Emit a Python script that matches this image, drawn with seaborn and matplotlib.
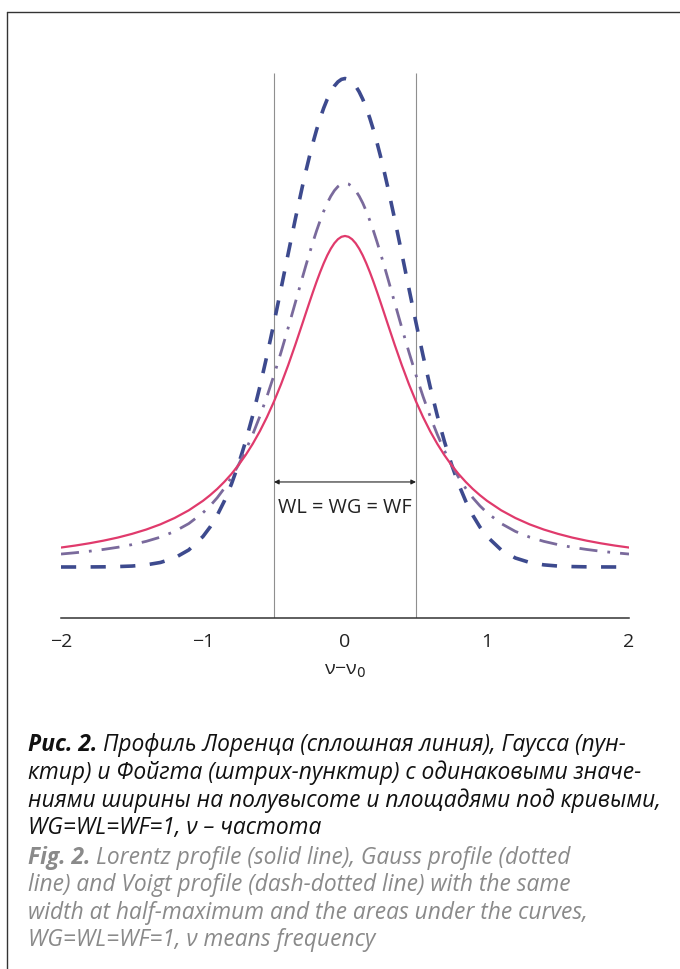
import matplotlib
matplotlib.use("Agg")
import matplotlib.pyplot as plt
from matplotlib.lines import Line2D
import seaborn as sns
import pandas as pd

# ---------------- data ----------------
x_vals = [-2.0, -1.9, -1.8, -1.7, -1.6, -1.5, -1.4, -1.3, -1.2, -1.1,
          -1.0, -0.95, -0.9, -0.85, -0.8, -0.75, -0.7, -0.65, -0.6, -0.55,
          -0.5, -0.45, -0.4, -0.35, -0.3, -0.275, -0.25, -0.225, -0.2, -0.175,
          -0.15, -0.125, -0.1, -0.075, -0.05, -0.025,
          0.0,
          0.025, 0.05, 0.075, 0.1, 0.125, 0.15, 0.175, 0.2, 0.225, 0.25, 0.275,
          0.3, 0.35, 0.4, 0.45, 0.5,
          0.55, 0.6, 0.65, 0.7, 0.75, 0.8, 0.85, 0.9, 0.95, 1.0,
          1.1, 1.2, 1.3, 1.4, 1.5, 1.6, 1.7, 1.8, 1.9, 2.0]

lorentz = [0.0374, 0.0412, 0.0456, 0.0507, 0.0566, 0.0637, 0.0720, 0.0820, 0.0942, 0.1090,
           0.1273, 0.1381, 0.1501, 0.1637, 0.1788, 0.1959, 0.2151, 0.2367, 0.2609, 0.2881,
           0.3183, 0.3517, 0.3882, 0.4273, 0.4681, 0.4888, 0.5093, 0.5294, 0.5488, 0.5671,
           0.5840, 0.5992, 0.6121, 0.6226, 0.6303, 0.6350,
           0.6366,
           0.6350, 0.6303, 0.6226, 0.6121, 0.5992, 0.5840, 0.5671, 0.5488, 0.5294, 0.5093, 0.4888,
           0.4681, 0.4273, 0.3882, 0.3517, 0.3183,
           0.2881, 0.2609, 0.2367, 0.2151, 0.1959, 0.1788, 0.1637, 0.1501, 0.1381, 0.1273,
           0.1090, 0.0942, 0.0820, 0.0720, 0.0637, 0.0566, 0.0507, 0.0456, 0.0412, 0.0374]

gauss = [0.0000, 0.0000, 0.0001, 0.0003, 0.0008, 0.0018, 0.0041, 0.0087, 0.0173, 0.0328,
         0.0587, 0.0769, 0.0994, 0.1267, 0.1593, 0.1975, 0.2414, 0.2911, 0.3462, 0.4061,
         0.4697, 0.5358, 0.6028, 0.6689, 0.7319, 0.7617, 0.7899, 0.8164, 0.8408, 0.8629,
         0.8826, 0.8996, 0.9137, 0.9249, 0.9329, 0.9378,
         0.9394,
         0.9378, 0.9329, 0.9249, 0.9137, 0.8996, 0.8826, 0.8629, 0.8408, 0.8164, 0.7899, 0.7617,
         0.7319, 0.6689, 0.6028, 0.5358, 0.4697,
         0.4061, 0.3462, 0.2911, 0.2414, 0.1975, 0.1593, 0.1267, 0.0994, 0.0769, 0.0587,
         0.0328, 0.0173, 0.0087, 0.0041, 0.0018, 0.0008, 0.0003, 0.0001, 0.0000, 0.0000]

voigt = [0.0249, 0.0274, 0.0303, 0.0338, 0.0379, 0.0430, 0.0493, 0.0574, 0.0684, 0.0835,
         0.1044, 0.1176, 0.1331, 0.1513, 0.1723, 0.1965, 0.2239, 0.2549, 0.2895, 0.3276,
         0.3690, 0.4134, 0.4601, 0.5083, 0.5565, 0.5803, 0.6033, 0.6256, 0.6467, 0.6662,
         0.6841, 0.6999, 0.7131, 0.7238, 0.7316, 0.7365,
         0.7380,
         0.7365, 0.7316, 0.7238, 0.7131, 0.6999, 0.6841, 0.6662, 0.6467, 0.6256, 0.6033, 0.5803,
         0.5565, 0.5083, 0.4601, 0.4134, 0.3690,
         0.3276, 0.2895, 0.2549, 0.2239, 0.1965, 0.1723, 0.1513, 0.1331, 0.1176, 0.1044,
         0.0835, 0.0684, 0.0574, 0.0493, 0.0430, 0.0379, 0.0338, 0.0303, 0.0274, 0.0249]

half_width_edges = [-0.5, 0.5]
arrow_level = 0.1635
width_label = "WL = WG = WF"
major_ticks = [-2, -1, 0, 1, 2]
major_labels = ["\u22122", "\u22121", "0", "1", "2"]
minor_ticks = [-1.5, -0.5, 0.5, 1.5]

caption_ru = [
    ("Рис. 2. ", "Профиль Лоренца (сплошная линия), Гаусса (пун-"),
    ("", "ктир) и Фойгта (штрих-пунктир) с одинаковыми значе-"),
    ("", "ниями ширины на полувысоте и площадями под кривыми,"),
    ("", "WG=WL=WF=1, ν – частота"),
]
caption_en = [
    ("Fig. 2. ", "Lorentz profile (solid line), Gauss profile (dotted"),
    ("", "line) and Voigt profile (dash-dotted line) with the same"),
    ("", "width at half-maximum and the areas under the curves,"),
    ("", "WG=WL=WF=1, ν means frequency"),
]

df = pd.DataFrame({"x": x_vals, "Lorentz": lorentz, "Gauss": gauss, "Voigt": voigt})

# ---------------- style ----------------
sns.set_style("white")
plt.rcParams["font.family"] = ["Open Sans", "DejaVu Sans"]
plt.rcParams["mathtext.fontset"] = "dejavusans"

W, H = 680, 969
fig = plt.figure(figsize=(W / 100, H / 100), dpi=100)
fig.patch.set_facecolor("white")

ax_left, ax_right, ax_top, ax_bot = 61, 629, 73, 618
ax = fig.add_axes([ax_left / W, (H - ax_bot) / H, (ax_right - ax_left) / W, (ax_bot - ax_top) / H])
ax.set_facecolor("white")
ymin, ymax = -0.0981, 0.950

sns.lineplot(data=df, x="x", y="Gauss", ax=ax, color="#3d4a8e", lw=2.6,
             linestyle=(0, (4.2, 4.0)), sort=False, errorbar=None)
sns.lineplot(data=df, x="x", y="Voigt", ax=ax, color="#7a6a9c", lw=2.0,
             linestyle=(0, (6.5, 3.6, 1.0, 3.6)), sort=False, errorbar=None)
sns.lineplot(data=df, x="x", y="Lorentz", ax=ax, color="#e03a6c", lw=1.6,
             sort=False, errorbar=None)

ax.vlines(half_width_edges, ymin, ymax, color="#8f8f8f", lw=0.8, zorder=1)

ax.annotate("", xy=(half_width_edges[1], arrow_level), xytext=(half_width_edges[0], arrow_level),
            arrowprops=dict(arrowstyle="<|-|>", lw=0.8, color="#222222",
                            mutation_scale=7, shrinkA=0, shrinkB=0))
ax.text(0, 0.114, width_label, ha="center", va="center", fontsize=14.3, color="#222222")

ax.set_xlim(-2, 2)
ax.set_ylim(ymin, ymax)
ax.set_yticks([])
ax.set_ylabel("")
ax.set_xticks(major_ticks)
ax.set_xticklabels(major_labels)
ax.set_xticks(minor_ticks, minor=True)
ax.tick_params(axis="x", which="both", direction="in", length=4.8, width=0.9,
               color="#333333", labelsize=14, pad=10.5, labelcolor="#222222")
for s in ["left", "right", "top"]:
    ax.spines[s].set_visible(False)
ax.spines["bottom"].set_color("#333333")
ax.spines["bottom"].set_linewidth(1.1)
ax.set_xlabel("ν−ν$_0$", fontsize=14, color="#222222", labelpad=8)

# frame lines (left and top)
fig.add_artist(Line2D([7 / W, 7 / W], [0, 1 - 12 / H], transform=fig.transFigure,
                      color="#333333", lw=1.0))
fig.add_artist(Line2D([7 / W, 1], [1 - 12 / H, 1 - 12 / H], transform=fig.transFigure,
                      color="#333333", lw=1.0))

# caption
renderer = fig.canvas.get_renderer()
cap_fs = 16.4
cap_x = 28
def put_line(bold, rest, ybase, color):
    x = cap_x / W
    y = 1 - ybase / H
    if bold:
        t = fig.text(x, y, bold, fontsize=cap_fs, style="italic", weight="bold",
                     color=color, va="baseline", ha="left")
        bb = t.get_window_extent(renderer=renderer)
        x = bb.x1 / fig.bbox.width
    fig.text(x, y, rest, fontsize=cap_fs, style="italic", color=color,
             va="baseline", ha="left")

ru_base = [751, 779, 807, 834]
en_base = [864, 891, 919, 946]
for (b, r), yb in zip(caption_ru, ru_base):
    put_line(b, r, yb, "#111111")
for (b, r), yb in zip(caption_en, en_base):
    put_line(b, r, yb, "#8a8a8a")

fig.savefig("out.png", dpi=100, facecolor="white")
